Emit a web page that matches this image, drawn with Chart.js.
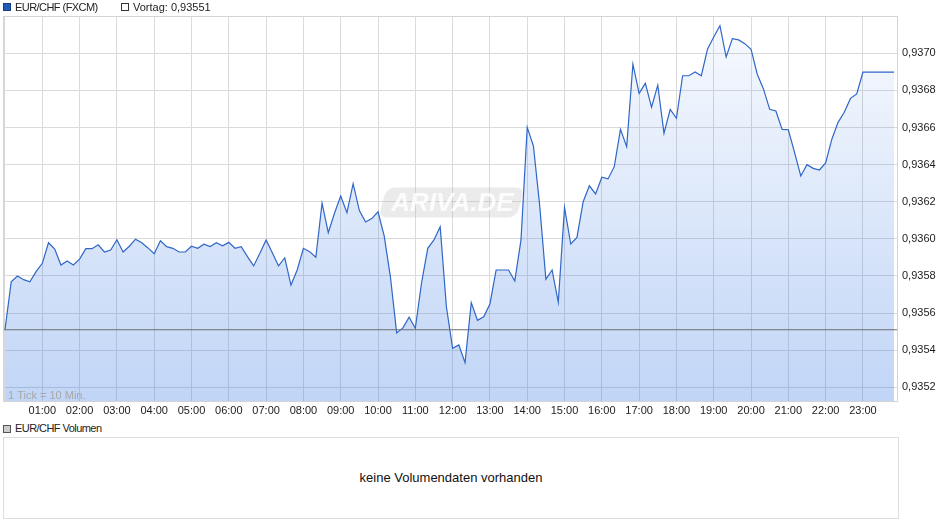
<!DOCTYPE html>
<html>
<head>
<meta charset="utf-8">
<script src="https://cdn.jsdelivr.net/npm/chart.js@4.4.1/dist/chart.umd.min.js"></script>
<style>
  body { margin: 0; background: #fff; font-family: "Liberation Sans", Arial, sans-serif; font-size: 11px; color: #222; }
  #wrap { position: relative; width: 940px; height: 526px; overflow: hidden; }
  #main { position: absolute; left: 0; top: 0; }
  .sq { position: absolute; width: 6px; height: 6px; border: 1px solid #333; }
  .txt { position: absolute; height: 14px; line-height: 14px; white-space: nowrap; }
  .tight { letter-spacing: -0.55px; }
  #volbox { position: absolute; left: 3px; top: 437px; width: 894px; height: 80px; border: 1px solid #ddd;
            text-align: center; line-height: 80px; font-size: 13px; color: #111; }
</style>
</head>
<body>
<div id="wrap">
  <canvas id="main" width="940" height="420"></canvas>
  <div class="sq" style="left:3px;top:3px;background:#1f5cc0;border-color:#1a3d7a"></div>
  <div class="txt tight" style="left:15px;top:0px">EUR/CHF (FXCM)</div>
  <div class="sq" style="left:121px;top:3px;background:#fff"></div>
  <div class="txt" style="left:133px;top:0px">Vortag: 0,93551</div>
  <div class="sq" style="left:3px;top:425px;background:#ccc;border-color:#555"></div>
  <div class="txt tight" style="left:15px;top:421px">EUR/CHF Volumen</div>
  <div id="volbox">keine Volumendaten vorhanden</div>
</div>
<script>
// EUR/CHF quotes, one every 10 minutes from 00:00
const prices = [
  0.93551, 0.935769, 0.93580, 0.93578, 0.935769, 0.935823, 0.935868, 0.935979, 0.935945, 0.935859, 0.935881, 0.935859,
  0.935891, 0.935947, 0.935947, 0.935968, 0.935929, 0.93594, 0.935995, 0.935929, 0.93596, 0.935998, 0.935979, 0.935951,
  0.93592, 0.93599, 0.935958, 0.935949, 0.935929, 0.935929, 0.93596, 0.935949, 0.935971, 0.935958, 0.935979, 0.935962,
  0.935981, 0.935949, 0.935958, 0.935904, 0.935854, 0.935922, 0.935994, 0.935925, 0.935854, 0.935898, 0.935751, 0.935832,
  0.935949, 0.935931, 0.935901, 0.936192, 0.936033, 0.936138, 0.936231, 0.936141, 0.936297, 0.936152, 0.936091, 0.936109,
  0.936146, 0.936015, 0.935794, 0.935493, 0.93552, 0.935577, 0.935518, 0.935762, 0.935949, 0.935994, 0.936065, 0.935634,
  0.93541, 0.935428, 0.935333, 0.935656, 0.935561, 0.93558, 0.935649, 0.935832, 0.935832, 0.935832, 0.935773, 0.935994,
  0.936601, 0.9365, 0.936182, 0.935782, 0.935832, 0.935658, 0.93617, 0.935972, 0.936008, 0.9362, 0.936286, 0.936242,
  0.936332, 0.936323, 0.936389, 0.93659, 0.936497, 0.936941, 0.936784, 0.936838, 0.936709, 0.936828, 0.936569, 0.936698,
  0.93665, 0.936879, 0.936879, 0.936899, 0.936879, 0.937022, 0.937088, 0.937149, 0.93698, 0.937079, 0.937072, 0.937052,
  0.937022, 0.936887, 0.936808, 0.936698, 0.936689, 0.93659, 0.936588, 0.936466, 0.936339, 0.9364, 0.93638, 0.936371,
  0.936409, 0.936537, 0.936628, 0.936682, 0.936757, 0.936781, 0.936898, 0.936898, 0.936898, 0.936898, 0.936898, 0.936898
];
const vortag = 0.93551;
const tickMinutes = 10;
const hourLabels = ['01:00','02:00','03:00','04:00','05:00','06:00','07:00','08:00','09:00','10:00','11:00','12:00',
                    '13:00','14:00','15:00','16:00','17:00','18:00','19:00','20:00','21:00','22:00','23:00'];
const yTicks = [0.9352, 0.9354, 0.9356, 0.9358, 0.9360, 0.9362, 0.9364, 0.9366, 0.9368, 0.9370];
const xMin = -3.2, xMax = 1436.4;
const yMin = 0.935126, yMax = 0.937201;

const hourTicks = [0].concat(hourLabels.map((_, i) => (i + 1) * 60));

// frame + watermark + note
const decor = {
  id: 'decor',
  beforeDatasetsDraw(chart) {
    const { ctx, chartArea: a } = chart;
    const cx = (a.left + a.right) / 2, cy = (a.top + a.bottom) / 2 - 6;
    ctx.save();
    ctx.translate(cx, cy);
    ctx.transform(1, 0, -0.28, 1, 0, 0);
    ctx.fillStyle = 'rgba(190,190,190,0.3)';
    ctx.beginPath();
    ctx.roundRect(-68, -15, 138, 30, 8);
    ctx.fill();
    ctx.restore();
    ctx.save();
    ctx.font = 'italic bold 26px "Liberation Sans", Arial, sans-serif';
    ctx.fillStyle = 'rgba(255,255,255,0.85)';
    ctx.textAlign = 'center';
    ctx.textBaseline = 'middle';
    ctx.fillText('ARIVA.DE', cx + 2, cy + 1);
    ctx.restore();
  },
  afterDatasetsDraw(chart) {
    const { ctx, chartArea: a } = chart;
    ctx.save();
    ctx.font = '11px "Liberation Sans", Arial, sans-serif';
    ctx.fillStyle = '#a8a8a8';
    ctx.textBaseline = 'alphabetic';
    ctx.fillText('1 Tick = 10 Min.', a.left + 5, a.bottom - 2);
    ctx.strokeStyle = '#d4d4d4';
    ctx.lineWidth = 1;
    ctx.strokeRect(a.left + 0.5, a.top + 0.5, a.right - a.left - 1, a.bottom - a.top);
    ctx.restore();
  }
};

new Chart(document.getElementById('main'), {
  type: 'line',
  data: {
    datasets: [
      {
        data: prices.map((v, i) => ({ x: i * tickMinutes, y: v })),
        borderColor: '#2f66c8',
        borderWidth: 1.2,
        pointRadius: 0,
        tension: 0,
        fill: 'start',
        order: 1,
        backgroundColor: function(c) {
          const a = c.chart.chartArea;
          if (!a) return 'rgba(40,110,225,0.15)';
          const g = c.chart.ctx.createLinearGradient(0, a.top, 0, a.bottom);
          g.addColorStop(0, 'rgba(40,110,225,0.03)');
          g.addColorStop(1, 'rgba(40,110,225,0.29)');
          return g;
        }
      },
      {
        data: [{ x: xMin, y: vortag }, { x: xMax, y: vortag }],
        borderColor: '#6e6e6e',
        borderWidth: 1,
        pointRadius: 0,
        fill: false,
        order: 0
      }
    ]
  },
  options: {
    responsive: false,
    animation: false,
    devicePixelRatio: 1,
    layout: { padding: { left: 3, top: 16, right: 0, bottom: 0 } },
    plugins: { legend: { display: false }, tooltip: { enabled: false } },
    scales: {
      x: {
        type: 'linear',
        min: xMin,
        max: xMax,
        afterBuildTicks: s => { s.ticks = hourTicks.map(v => ({ value: v })); },
        afterFit: s => { s.height = 19; },
        grid: { color: '#dadada', drawTicks: false },
        border: { display: false },
        ticks: {
          padding: 3,
          color: '#222',
          maxRotation: 0,
          autoSkip: false,
          font: { family: '"Liberation Sans", Arial, sans-serif', size: 11 },
          callback: v => (v === 0 ? '' : hourLabels[v / 60 - 1])
        }
      },
      y: {
        position: 'right',
        min: yMin,
        max: yMax,
        afterBuildTicks: s => { s.ticks = yTicks.map(v => ({ value: v })); },
        afterFit: s => { s.width = 42; },
        grid: { color: '#dadada', drawTicks: false },
        border: { display: false },
        ticks: {
          padding: 4,
          color: '#222',
          font: { family: '"Liberation Sans", Arial, sans-serif', size: 11 },
          callback: v => v.toFixed(4).replace('.', ',')
        }
      }
    }
  },
  plugins: [decor]
});
</script>
</body>
</html>
